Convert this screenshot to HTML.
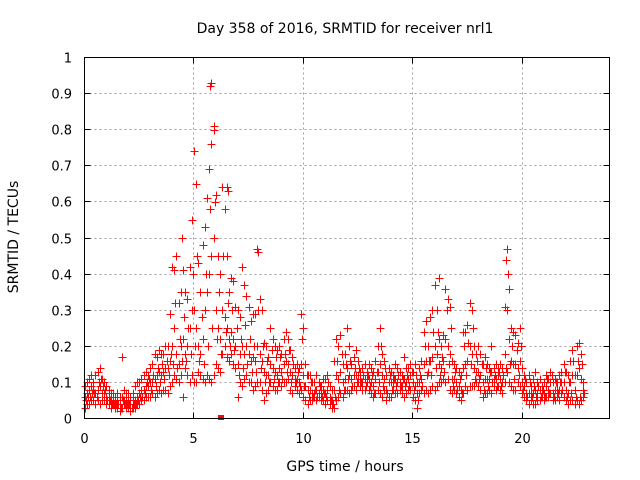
<!DOCTYPE html>
<html><head><meta charset="utf-8"><style>
body{margin:0;background:#fff;}
svg{display:block;font-family:"DejaVu Sans","Liberation Sans",sans-serif;}
</style></head><body>
<svg id="chart" width="640" height="480" viewBox="0 0 640 480" xmlns="http://www.w3.org/2000/svg">
<rect width="640" height="480" fill="#fff"/>
<text x="345" y="33" font-size="14" text-anchor="middle">Day 358 of 2016, SRMTID for receiver nrl1</text>
<text transform="translate(18,237) rotate(-90)" font-size="14" text-anchor="middle">SRMTID / TECUs</text>
<text x="345" y="471" font-size="14" text-anchor="middle">GPS time / hours</text>
<g id="grid"></g>
<g id="ticks"></g>
<g id="marks"></g>
<rect x="84.5" y="57.5" width="525" height="361" fill="none" stroke="#000" stroke-width="1" shape-rendering="crispEdges"/>
</svg>
<script>
const xTicks=[0,5,10,15,20];
const yTicks=[0,0.1,0.2,0.3,0.4,0.5,0.6,0.7,0.8,0.9,1];
const yTickLabels=["0","0.1","0.2","0.3","0.4","0.5","0.6","0.7","0.8","0.9","1"];
const stepHours=0.1;
const lowVals=[0.03,0.04,0.04,0.05,0.05,0.04,0.05,0.04,0.05,0.05,
0.04,0.04,0.03,0.04,0.03,0.03,0.02,0.03,0.04,0.03,
0.03,0.02,0.03,0.03,0.04,0.04,0.05,0.05,0.06,0.06,
0.06,0.07,0.06,0.07,0.08,0.07,0.08,0.08,0.07,0.09,
0.1,0.12,0.11,0.1,0.12,0.06,0.14,0.12,0.1,0.12,
0.1,0.1,0.13,0.12,0.11,0.1,0.12,0.11,0.1,0.12,
0.15,0.14,0.13,0.18,0.2,0.17,0.16,0.18,0.15,0.14,
0.06,0.1,0.09,0.11,0.12,0.1,0.1,0.08,0.09,0.1,
0.1,0.08,0.05,0.07,0.08,0.1,0.09,0.08,0.08,0.1,
0.09,0.1,0.1,0.11,0.08,0.07,0.09,0.08,0.07,0.08,
0.06,0.05,0.04,0.05,0.05,0.06,0.05,0.06,0.05,0.05,
0.04,0.05,0.04,0.03,0.03,0.05,0.06,0.07,0.06,0.08,
0.08,0.07,0.08,0.09,0.08,0.1,0.09,0.08,0.08,0.1,
0.08,0.07,0.06,0.07,0.08,0.07,0.06,0.08,0.05,0.06,
0.06,0.08,0.07,0.07,0.08,0.07,0.06,0.07,0.08,0.08,
0.06,0.05,0.03,0.07,0.08,0.07,0.08,0.07,0.08,0.09,
0.08,0.09,0.1,0.1,0.11,0.1,0.11,0.08,0.07,0.08,
0.07,0.06,0.05,0.07,0.09,0.08,0.09,0.09,0.09,0.1,
0.09,0.08,0.06,0.07,0.07,0.08,0.07,0.09,0.08,0.09,
0.08,0.07,0.1,0.13,0.1,0.09,0.08,0.08,0.1,0.09,
0.07,0.06,0.05,0.04,0.05,0.04,0.04,0.05,0.05,0.06,
0.05,0.06,0.06,0.07,0.05,0.05,0.06,0.05,0.07,0.06,
0.05,0.04,0.05,0.05,0.04,0.05,0.04,0.05,0.06];
const typVals=[.06,.07,.08,.09,.08,.07,.08,.09,.07,.07,
.06,.06,.05,.05,.04,.05,.04,.06,.05,.05,
.05,.04,.05,.05,.06,.07,.08,.08,.09,.09,
.1,.1,.11,.12,.13,.12,.13,.14,.14,.16,
.2,.25,.18,.15,.2,.22,.18,.2,.25,.3,
.3,.25,.2,.18,.22,.3,.35,.4,.45,.5,
.3,.25,.22,.3,.28,.25,.22,.24,.22,.2,
.15,.18,.2,.18,.2,.18,.16,.17,.16,.2,
.18,.16,.13,.12,.12,.15,.14,.13,.12,.14,
.13,.15,.16,.15,.13,.12,.11,.11,.1,.15,
.12,.09,.08,.08,.07,.07,.08,.07,.07,.08,
.07,.08,.06,.05,.08,.12,.11,.13,.1,.11,
.14,.12,.11,.12,.12,.12,.11,.1,.11,.11,
.11,.1,.09,.11,.13,.15,.12,.11,.08,.1,
.1,.1,.11,.1,.1,.09,.11,.1,.11,.12,
.1,.09,.07,.1,.11,.15,.16,.13,.16,.17,
.2,.18,.15,.14,.16,.22,.2,.18,.11,.11,
.1,.09,.08,.14,.15,.16,.2,.18,.14,.13,
.13,.12,.1,.11,.11,.11,.13,.11,.11,.12,
.11,.1,.18,.3,.22,.16,.15,.15,.14,.16,
.1,.09,.07,.07,.07,.07,.08,.07,.08,.07,
.07,.09,.08,.1,.07,.08,.08,.08,.1,.1,
.08,.07,.1,.12,.08,.12,.14,.11,.08];
const midVals=[.05,.06,.06,.07,.07,.06,.1,.11,.09,.08,
.05,.05,.04,.04,.04,.04,.03,.05,.04,.04,
.04,.03,.04,.04,.05,.06,.06,.07,.1,.11,
.08,.12,.09,.14,.1,.15,.11,.16,.12,.18,
.15,.32,.14,.22,.16,.28,.16,.25,.18,.4,
.2,.45,.16,.28,.15,.4,.2,.58,.25,.6,
.22,.35,.18,.45,.24,.32,.2,.3,.19,.25,
.12,.22,.14,.26,.15,.22,.13,.2,.13,.3,
.14,.2,.1,.16,.1,.19,.11,.17,.1,.17,
.11,.18,.13,.19,.1,.15,.1,.13,.09,.22,
.09,.12,.06,.1,.06,.08,.06,.09,.06,.07,
.06,.1,.05,.04,.06,.16,.08,.18,.08,.15,
.11,.16,.09,.14,.1,.14,.1,.12,.09,.12,
.09,.12,.07,.13,.1,.2,.09,.14,.07,.12,
.08,.11,.09,.12,.09,.11,.09,.12,.09,.13,
.08,.12,.05,.12,.09,.2,.12,.16,.12,.24,
.14,.24,.12,.17,.13,.3,.15,.25,.09,.13,
.08,.11,.07,.2,.12,.21,.15,.25,.11,.16,
.11,.15,.08,.14,.09,.13,.1,.12,.09,.13,
.09,.12,.14,.4,.15,.2,.11,.19,.12,.2,
.08,.11,.06,.1,.06,.09,.06,.09,.06,.08,
.06,.11,.07,.12,.06,.1,.07,.1,.08,.13,
.06,.1,.07,.16,.06,.16,.06,.15,.07];
const highVals=[0.09,0.1,0.11,0.12,0.1,0.12,0.13,0.14,0.11,0.1,
0.09,0.08,0.07,0.07,0.06,0.07,0.06,0.17,0.08,0.07,
0.07,0.06,0.07,0.09,0.1,0.1,0.11,0.12,0.13,0.12,
0.14,0.15,0.18,0.17,0.19,0.18,0.18,0.2,0.2,0.29,
0.42,0.41,0.45,0.32,0.35,0.41,0.35,0.33,0.42,0.55,
0.74,0.65,0.43,0.35,0.48,0.53,0.61,0.69,0.76,0.8,
0.62,0.45,0.4,0.64,0.58,0.45,0.35,0.39,0.38,0.31,
0.3,0.28,0.42,0.37,0.34,0.31,0.27,0.29,0.29,0.47,
0.33,0.3,0.21,0.2,0.17,0.25,0.22,0.2,0.19,0.2,
0.18,0.22,0.24,0.22,0.19,0.17,0.14,0.15,0.14,0.29,
0.25,0.15,0.12,0.12,0.1,0.1,0.12,0.1,0.09,0.11,
0.11,0.12,0.09,0.08,0.16,0.22,0.2,0.23,0.15,0.18,
0.25,0.2,0.15,0.17,0.19,0.16,0.13,0.14,0.15,0.13,
0.15,0.14,0.13,0.16,0.2,0.25,0.18,0.16,0.12,0.14,
0.13,0.12,0.15,0.14,0.13,0.12,0.17,0.14,0.14,0.15,
0.13,0.15,0.1,0.14,0.16,0.24,0.27,0.2,0.28,0.3,
0.37,0.3,0.22,0.2,0.23,0.36,0.33,0.31,0.16,0.15,
0.14,0.13,0.12,0.24,0.24,0.26,0.32,0.3,0.2,0.18,
0.2,0.18,0.15,0.17,0.15,0.14,0.2,0.14,0.15,0.14,
0.15,0.14,0.31,0.47,0.36,0.25,0.24,0.23,0.21,0.25,
0.14,0.12,0.1,0.12,0.09,0.11,0.13,0.1,0.11,0.09,
0.1,0.12,0.11,0.13,0.1,0.11,0.1,0.12,0.13,0.15,
0.13,0.12,0.16,0.19,0.12,0.2,0.21,0.18,0.1];
const peakTimes=[5.75,5.78,5.9,4.45,6.5,6.55,7.95,19.25,16.2,16.5];
const peakVals=[0.92,0.93,0.81,0.5,0.64,0.63,0.46,0.44,0.39,0.36];

const X0=84.5,X1=609.5,Y0=418.5,Y1=57.5,XMAX=24;
const xs=t=>X0+(t/XMAX)*(X1-X0);
const ys=v=>Y0-v*(Y0-Y1);
const NS="http://www.w3.org/2000/svg";
const grid=document.getElementById('grid'),ticks=document.getElementById('ticks'),marks=document.getElementById('marks');
function mk(tag,attrs,parent){const e=document.createElementNS(NS,tag);for(const k in attrs)e.setAttribute(k,attrs[k]);parent.appendChild(e);return e;}
xTicks.forEach(t=>{
  const x=Math.round(xs(t)-0.5)+0.5;
  if(t>0){const g=mk('line',{x1:x,x2:x,y1:Y1,y2:Y0,stroke:'#a0a0a0','stroke-dasharray':'2,3','shape-rendering':'crispEdges'},grid);
  
  }
  mk('line',{x1:x,x2:x,y1:Y0,y2:Y0-6,stroke:'#000','shape-rendering':'crispEdges'},ticks);
  mk('line',{x1:x,x2:x,y1:Y1,y2:Y1+6,stroke:'#000','shape-rendering':'crispEdges'},ticks);
  const l=mk('text',{x:x,y:443,'font-size':13,'text-anchor':'middle'},ticks);
  l.textContent=String(t);
  
  
});
yTicks.forEach((v,i)=>{
  const y=Math.round(ys(v)-0.5)+0.5;
  if(v>0&&v<1){const g=mk('line',{x1:X0,x2:X1,y1:y,y2:y,stroke:'#a0a0a0','stroke-dasharray':'2,3','shape-rendering':'crispEdges'},grid);
  
  }
  mk('line',{x1:X0,x2:X0+6,y1:y,y2:y,stroke:'#000','shape-rendering':'crispEdges'},ticks);
  mk('line',{x1:X1,x2:X1-6,y1:y,y2:y,stroke:'#000','shape-rendering':'crispEdges'},ticks);
  const l=mk('text',{x:72,y:y+5,'font-size':13,'text-anchor':'end'},ticks);
  l.textContent=yTickLabels[i];
  
  
});
let d='';
function plus(t,v){const x=Math.round(xs(t))+0.5,y=Math.round(ys(v))+0.5;d+=`M${x-4} ${y}h8M${x} ${y-4}v8`;}
[lowVals,typVals,highVals].forEach(arr=>arr.forEach((v,i)=>plus(i*stepHours,v)));
midVals.forEach((v,i)=>plus(i*stepHours+stepHours/2,v));
peakTimes.forEach((t,i)=>plus(t,peakVals[i]));
const p=mk('path',{d:d,stroke:'#ff0000','stroke-width':1,fill:'none','shape-rendering':'crispEdges'},marks);


const sq=mk('rect',{x:Math.round(xs(6.2))-2,y:415,width:6,height:5,fill:'#ff0000'},marks);


</script>
</body></html>
